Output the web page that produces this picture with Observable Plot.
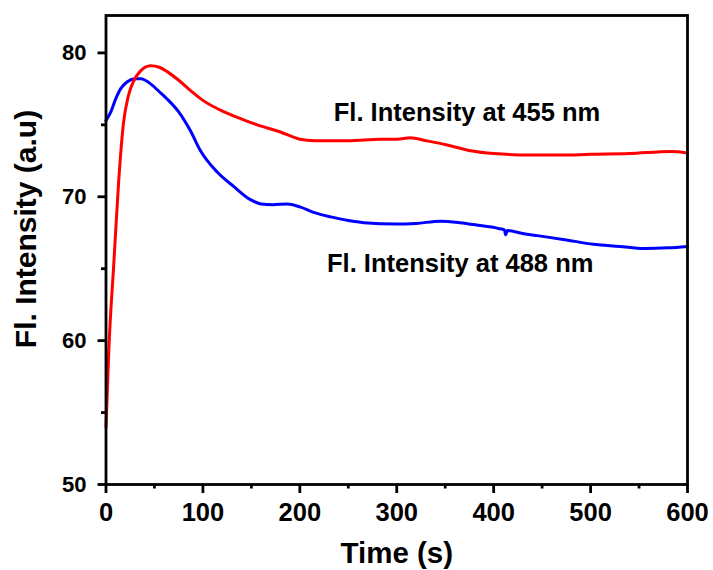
<!DOCTYPE html>
<html>
<head>
<meta charset="utf-8">
<script src="https://cdn.jsdelivr.net/npm/d3@7"></script>
<script src="https://cdn.jsdelivr.net/npm/@observablehq/plot@0.6"></script>
<style>
  html, body { margin: 0; padding: 0; background: #fff; }
  #chart svg text { font-weight: bold; }
</style>
</head>
<body>
<div id="chart"></div>
<script>
// Fl. Intensity at 455 nm (red)
const time455 = [0, 3, 8, 13, 18, 23, 29, 35, 46, 55, 63, 75, 87, 100, 122, 140, 156, 180, 200, 215, 250, 283, 300, 314, 330, 352, 376, 400, 438, 470, 500, 540, 583, 600];
const int455  = [54.0, 59.5, 65.3, 71.0, 75.1, 77.0, 78.1, 78.7, 79.1, 79.0, 78.7, 78.1, 77.4, 76.7, 75.9, 75.4, 75.0, 74.5, 74.0, 73.9, 73.9, 74.0, 74.0, 74.1, 73.9, 73.6, 73.2, 73.0, 72.9, 72.9, 72.95, 73.0, 73.15, 73.05];

// Fl. Intensity at 488 nm (blue)
const time488 = [0, 5, 10, 15, 22, 30, 36, 45, 55, 63, 75, 87, 97.5, 115, 132, 149, 160, 172, 187, 200, 215, 232, 250, 266, 300, 320, 345, 365, 386, 405, 411, 412.5, 414, 430, 445, 475, 503, 530, 555, 580, 600];
const int488  = [75.3, 75.9, 76.8, 77.5, 78.0, 78.2, 78.2, 77.9, 77.3, 76.8, 75.9, 74.6, 73.2, 71.7, 70.7, 69.8, 69.5, 69.45, 69.5, 69.3, 68.9, 68.6, 68.35, 68.2, 68.1, 68.15, 68.3, 68.2, 68.0, 67.8, 67.7, 67.35, 67.65, 67.45, 67.3, 67.0, 66.7, 66.55, 66.4, 66.45, 66.55];

const xMajorTicks = [0, 100, 200, 300, 400, 500, 600];
const xMinorTicks = [50, 150, 250, 350, 450, 550];
const yMajorTicks = [50, 60, 70, 80];
const yMinorTicks = [55, 65, 75];

const seriesLabels = ["Fl. Intensity at 455 nm", "Fl. Intensity at 488 nm"];
const labelTime = [235, 228];
const labelIntensity = [75.3, 64.8];
const xTitle = "Time (s)";
const yTitle = "Fl. Intensity (a.u)";

const d455 = time455.map((t, i) => ({t, v: int455[i]}));
const d488 = time488.map((t, i) => ({t, v: int488[i]}));
const labels = seriesLabels.map((s, i) => ({s, t: labelTime[i], v: labelIntensity[i]}));

const font = "Arial, 'Liberation Sans', Helvetica, sans-serif";
const W = 713, H = 570, mL = 105.5, mR = 26, mT = 15, mB = 86;
const frameW = W - mL - mR, frameH = H - mT - mB;
const tickW = 2.8;

const chart = Plot.plot({
  width: W,
  height: H,
  marginLeft: mL,
  marginRight: mR,
  marginTop: mT,
  marginBottom: mB,
  style: {fontFamily: font, background: "#fff", color: "#000"},
  x: {domain: [0, 600], axis: null},
  y: {domain: [50, 82.6], axis: null},
  marks: [
    Plot.line(d488, {x: "t", y: "v", stroke: "#0000ff", strokeWidth: 3, curve: "monotone-x"}),
    Plot.line(d455, {x: "t", y: "v", stroke: "#ff0000", strokeWidth: 3, curve: "monotone-x"}),
    // outward tick marks (rules hung below / left of the frame)
    Plot.ruleX(xMajorTicks, {x: d => d, stroke: "#000", strokeWidth: tickW, insetTop: frameH, insetBottom: -9}),
    Plot.ruleX(xMinorTicks, {x: d => d, stroke: "#000", strokeWidth: tickW, insetTop: frameH, insetBottom: -4.5}),
    Plot.ruleY(yMajorTicks, {y: d => d, stroke: "#000", strokeWidth: tickW, insetRight: frameW, insetLeft: -8}),
    Plot.ruleY(yMinorTicks, {y: d => d, stroke: "#000", strokeWidth: tickW, insetRight: frameW, insetLeft: -4.5}),
    Plot.frame({stroke: "#000", strokeWidth: tickW}),
    Plot.axisX({ticks: xMajorTicks, tickSize: 0, tickPadding: 18.3, fontSize: 25.5, fill: "#000", tickFormat: d => d, label: null}),
    Plot.axisY({ticks: yMajorTicks, tickSize: 0, tickPadding: 19.5, fontSize: 22, fill: "#000", tickFormat: d => d, label: null}),
    Plot.text(labels, {x: "t", y: "v", text: "s", textAnchor: "start", lineAnchor: "bottom", fontSize: 25.5, fill: "#000"}),
    Plot.text([xTitle], {frameAnchor: "bottom", text: d => d, textAnchor: "middle", lineAnchor: "bottom", dy: 78, fontSize: 29.5, fill: "#000"}),
    Plot.text([yTitle], {frameAnchor: "left", text: d => d, rotate: -90, textAnchor: "middle", lineAnchor: "bottom", dx: -70.5, dy: -21, fontSize: 30, fill: "#000"})
  ]
});
document.getElementById("chart").appendChild(chart);
</script>
</body>
</html>
